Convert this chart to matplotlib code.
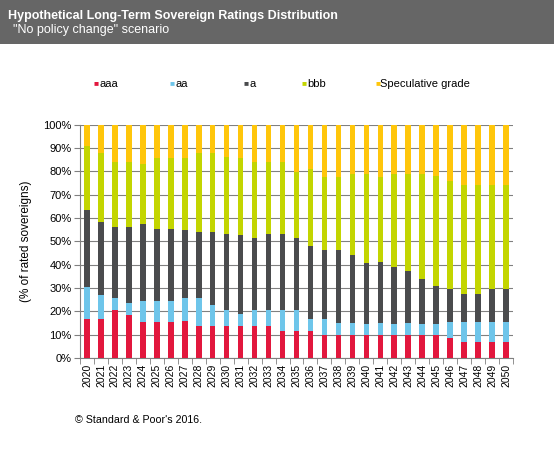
import numpy as np
import matplotlib
matplotlib.use("Agg")
import matplotlib.pyplot as plt
from matplotlib.ticker import PercentFormatter

plt.rcParams["font.family"] = ["Liberation Sans", "DejaVu Sans"]

years = [str(y) for y in range(2020, 2051)]

# share of rated sovereigns, % per rating bucket
aaa = [16.7, 16.7, 20.6, 18.4, 15.4, 15.4, 15.4, 16.0, 13.7, 13.7, 13.7, 13.7, 13.7, 13.7, 11.7, 11.7,
       11.7, 9.7, 9.7, 9.7, 9.7, 9.7, 9.7, 9.7, 9.7, 9.7, 8.6, 6.9, 6.9, 6.9, 6.9]
aa = [13.9, 10.3, 5.0, 5.3, 9.0, 9.0, 9.0, 9.7, 12.0, 9.0, 6.9, 5.2, 6.9, 6.9, 8.9, 8.9,
      5.0, 7.0, 5.4, 5.4, 4.9, 5.4, 4.9, 5.4, 4.9, 4.9, 6.8, 8.5, 8.5, 8.5, 8.5]
a = [32.8, 31.3, 30.5, 32.4, 33.0, 30.9, 30.9, 29.2, 28.3, 31.3, 32.5, 33.8, 31.0, 32.5, 32.5, 31.0,
     31.3, 29.6, 31.2, 29.0, 26.1, 26.0, 24.4, 22.2, 19.3, 16.3, 14.2, 12.0, 12.0, 14.2, 14.2]
bbb = [27.5, 29.7, 27.8, 28.0, 25.7, 30.6, 30.6, 30.7, 34.0, 34.0, 33.2, 32.9, 32.3, 31.0, 31.0, 28.0,
       33.0, 31.4, 31.4, 34.8, 38.2, 36.6, 39.9, 41.6, 45.0, 47.1, 46.4, 46.7, 46.7, 44.5, 44.5]
spec = [9.1, 12.0, 16.1, 15.9, 16.9, 14.1, 14.1, 14.4, 12.0, 12.0, 13.7, 14.4, 16.1, 15.9, 15.9, 20.4,
        19.0, 22.3, 22.3, 21.1, 21.1, 22.3, 21.1, 21.1, 21.1, 22.0, 24.0, 25.9, 25.9, 25.9, 25.9]

series = [("aaa", aaa, "#e2173d"),
          ("aa", aa, "#6ec5ea"),
          ("a", a, "#4a4b4d"),
          ("bbb", bbb, "#c3d500"),
          ("Speculative grade", spec, "#ffc60b")]

fig = plt.figure(figsize=(5.54, 4.54), dpi=100)

# grey title band
band = fig.add_axes([0, 1 - 44 / 454, 1, 44 / 454])
band.set_facecolor("#666666")
band.set_xticks([])
band.set_yticks([])
for s in band.spines.values():
    s.set_visible(False)
fig.text(8 / 554, 1 - 16 / 454, "Hypothetical Long-Term Sovereign Ratings Distribution",
         color="white", fontsize=9, fontweight="bold", va="center")
fig.text(13 / 554, 1 - 30 / 454, '"No policy change" scenario',
         color="white", fontsize=9, va="center")

ax = fig.add_axes([80 / 554, 96 / 454, 433 / 554, 233.3 / 454])
x = np.arange(len(years))
bottom = np.zeros(len(years))
for name, vals, col in series:
    ax.bar(x, vals, bottom=bottom, width=0.4, color=col, label=name, zorder=3)
    bottom += np.array(vals)

ax.set_xlim(-0.5, len(years) - 0.5)
ax.set_ylim(0, 100)
ax.set_yticks(np.arange(0, 101, 10))
ax.yaxis.set_major_formatter(PercentFormatter(decimals=0))
ax.set_xticks(x)
ax.set_xticklabels(years, rotation=90, fontsize=7.5)
ax.set_xticks(np.arange(-0.5, len(years), 1), minor=True)
ax.tick_params(axis="x", which="major", length=0, pad=4)
ax.tick_params(axis="x", which="minor", length=4, color="#808080")
ax.tick_params(axis="y", labelsize=8, length=4, color="#808080", pad=2)
ax.grid(axis="y", color="#808080", linewidth=0.8, zorder=0)
for side in ["top", "right"]:
    ax.spines[side].set_visible(False)
ax.spines["left"].set_color("#808080")
ax.spines["bottom"].set_color("#808080")
ax.set_ylabel("(% of rated sovereigns)", fontsize=8.5, labelpad=8)

# legend spread across the top
legend_x = [94, 170, 244, 302, 375]
for (name, vals, col), lx in zip(series, legend_x):
    fig.text(lx / 554, 1 - 84 / 454, "\u25a0", color=col, fontsize=6, va="center")
    fig.text((lx + 5) / 554, 1 - 84 / 454, name, color="black", fontsize=8, va="center")

fig.text(75 / 554, 1 - 420 / 454, "\u00a9 Standard & Poor's 2016.", fontsize=7.7, va="center")

fig.savefig("out.png", dpi=100)
